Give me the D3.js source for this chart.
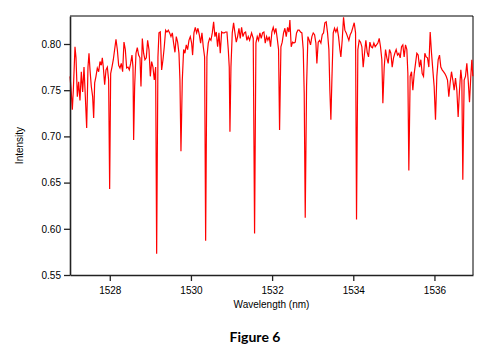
<!DOCTYPE html>
<html>
<head>
<meta charset="utf-8">
<script src="https://cdn.jsdelivr.net/npm/d3@7"></script>
<style>
  body { margin: 0; background: #fff; }
  svg { display: block; }
</style>
</head>
<body>
<script>
// spectrum (nm, arbitrary intensity)
const wavelength = [
  1527.020, 1527.045, 1527.077, 1527.102, 1527.143, 1527.168, 1527.201, 1527.233, 1527.266, 1527.299,
  1527.332, 1527.365, 1527.398, 1527.431, 1527.463, 1527.488, 1527.513, 1527.545, 1527.578, 1527.603,
  1527.628, 1527.660, 1527.693, 1527.726, 1527.759, 1527.792, 1527.816, 1527.841, 1527.874, 1527.907,
  1527.940, 1527.972, 1527.997, 1528.022, 1528.054, 1528.087, 1528.120, 1528.153, 1528.186, 1528.219,
  1528.252, 1528.284, 1528.317, 1528.350, 1528.383, 1528.416, 1528.449, 1528.481, 1528.514, 1528.547,
  1528.572, 1528.588, 1528.613, 1528.646, 1528.678, 1528.711, 1528.744, 1528.769, 1528.802, 1528.834,
  1528.867, 1528.900, 1528.933, 1528.966, 1528.999, 1529.031, 1529.064, 1529.097, 1529.130, 1529.155,
  1529.187, 1529.212, 1529.245, 1529.278, 1529.311, 1529.343, 1529.376, 1529.409, 1529.442, 1529.475,
  1529.508, 1529.541, 1529.573, 1529.606, 1529.639, 1529.672, 1529.705, 1529.729, 1529.754, 1529.787,
  1529.820, 1529.852, 1529.885, 1529.918, 1529.951, 1529.984, 1530.017, 1530.041, 1530.074, 1530.107,
  1530.140, 1530.173, 1530.206, 1530.238, 1530.271, 1530.304, 1530.337, 1530.362, 1530.394, 1530.427,
  1530.460, 1530.493, 1530.526, 1530.559, 1530.591, 1530.624, 1530.657, 1530.690, 1530.723, 1530.756,
  1530.788, 1530.821, 1530.854, 1530.887, 1530.920, 1530.944, 1530.961, 1530.986, 1531.018, 1531.051,
  1531.084, 1531.117, 1531.150, 1531.183, 1531.215, 1531.248, 1531.281, 1531.314, 1531.347, 1531.379,
  1531.412, 1531.445, 1531.494, 1531.535, 1531.568, 1531.601, 1531.634, 1531.666, 1531.699, 1531.732,
  1531.765, 1531.798, 1531.831, 1531.864, 1531.896, 1531.929, 1531.962, 1531.995, 1532.028, 1532.061,
  1532.093, 1532.126, 1532.159, 1532.184, 1532.217, 1532.249, 1532.282, 1532.315, 1532.348, 1532.381,
  1532.414, 1532.438, 1532.471, 1532.504, 1532.537, 1532.570, 1532.602, 1532.635, 1532.668, 1532.701,
  1532.734, 1532.767, 1532.791, 1532.816, 1532.849, 1532.882, 1532.914, 1532.947, 1532.980, 1533.013,
  1533.046, 1533.079, 1533.103, 1533.136, 1533.169, 1533.202, 1533.235, 1533.267, 1533.300, 1533.333,
  1533.366, 1533.399, 1533.423, 1533.448, 1533.473, 1533.506, 1533.538, 1533.571, 1533.604, 1533.637,
  1533.670, 1533.694, 1533.727, 1533.760, 1533.793, 1533.826, 1533.859, 1533.891, 1533.924, 1533.957,
  1533.990, 1534.023, 1534.056, 1534.080, 1534.113, 1534.146, 1534.179, 1534.212, 1534.244, 1534.277,
  1534.310, 1534.343, 1534.376, 1534.409, 1534.441, 1534.474, 1534.507, 1534.540, 1534.573, 1534.606,
  1534.639, 1534.671, 1534.704, 1534.729, 1534.762, 1534.795, 1534.827, 1534.860, 1534.893, 1534.926,
  1534.959, 1534.992, 1535.024, 1535.057, 1535.090, 1535.123, 1535.156, 1535.189, 1535.221, 1535.254,
  1535.287, 1535.320, 1535.345, 1535.369, 1535.402, 1535.435, 1535.468, 1535.501, 1535.534, 1535.566,
  1535.599, 1535.632, 1535.665, 1535.698, 1535.731, 1535.763, 1535.796, 1535.829, 1535.862, 1535.895,
  1535.928, 1535.960, 1535.993, 1536.026, 1536.059, 1536.092, 1536.125, 1536.157, 1536.190, 1536.223,
  1536.256, 1536.289, 1536.322, 1536.354, 1536.387, 1536.420, 1536.453, 1536.486, 1536.519, 1536.552,
  1536.584, 1536.617, 1536.650, 1536.675, 1536.699, 1536.732, 1536.765, 1536.798, 1536.831, 1536.864,
  1536.896, 1536.921, 1536.946
]
const intensity = [
  0.765, 0.752, 0.729, 0.750, 0.797, 0.785, 0.743, 0.759, 0.739, 0.770,
  0.748, 0.775, 0.743, 0.709, 0.775, 0.790, 0.772, 0.754, 0.743, 0.720,
  0.758, 0.765, 0.774, 0.770, 0.781, 0.777, 0.785, 0.775, 0.756, 0.772,
  0.775, 0.761, 0.643, 0.768, 0.775, 0.783, 0.794, 0.805, 0.794, 0.777,
  0.774, 0.779, 0.770, 0.802, 0.794, 0.774, 0.775, 0.772, 0.779, 0.788,
  0.775, 0.696, 0.754, 0.790, 0.796, 0.788, 0.785, 0.754, 0.806, 0.790,
  0.783, 0.785, 0.804, 0.794, 0.765, 0.781, 0.775, 0.761, 0.775, 0.573,
  0.786, 0.812, 0.813, 0.772, 0.783, 0.797, 0.815, 0.813, 0.815, 0.812,
  0.808, 0.812, 0.801, 0.791, 0.808, 0.802, 0.790, 0.761, 0.684, 0.761,
  0.794, 0.790, 0.799, 0.794, 0.804, 0.808, 0.801, 0.788, 0.812, 0.818,
  0.812, 0.817, 0.810, 0.801, 0.812, 0.797, 0.786, 0.587, 0.786, 0.801,
  0.806, 0.804, 0.812, 0.824, 0.808, 0.813, 0.797, 0.812, 0.790, 0.813,
  0.812, 0.812, 0.813, 0.813, 0.794, 0.775, 0.705, 0.775, 0.812, 0.823,
  0.812, 0.802, 0.808, 0.817, 0.806, 0.818, 0.808, 0.812, 0.813, 0.804,
  0.808, 0.804, 0.812, 0.806, 0.595, 0.801, 0.808, 0.804, 0.812, 0.806,
  0.812, 0.813, 0.801, 0.808, 0.804, 0.808, 0.797, 0.813, 0.818, 0.812,
  0.817, 0.806, 0.794, 0.707, 0.797, 0.802, 0.812, 0.817, 0.808, 0.818,
  0.813, 0.826, 0.797, 0.802, 0.801, 0.802, 0.812, 0.815, 0.815, 0.813,
  0.812, 0.794, 0.747, 0.612, 0.754, 0.808, 0.804, 0.799, 0.808, 0.812,
  0.810, 0.801, 0.779, 0.802, 0.804, 0.801, 0.810, 0.812, 0.823, 0.824,
  0.812, 0.794, 0.750, 0.718, 0.761, 0.812, 0.817, 0.813, 0.817, 0.808,
  0.794, 0.786, 0.804, 0.829, 0.815, 0.812, 0.808, 0.804, 0.810, 0.813,
  0.818, 0.823, 0.812, 0.610, 0.794, 0.804, 0.802, 0.797, 0.775, 0.790,
  0.804, 0.791, 0.786, 0.802, 0.797, 0.796, 0.801, 0.797, 0.799, 0.801,
  0.806, 0.797, 0.783, 0.736, 0.775, 0.794, 0.785, 0.779, 0.794, 0.790,
  0.775, 0.785, 0.790, 0.794, 0.788, 0.790, 0.785, 0.797, 0.799, 0.786,
  0.799, 0.794, 0.768, 0.663, 0.765, 0.770, 0.750, 0.768, 0.779, 0.790,
  0.788, 0.775, 0.783, 0.768, 0.765, 0.790, 0.786, 0.785, 0.775, 0.813,
  0.790, 0.772, 0.754, 0.718, 0.765, 0.783, 0.788, 0.775, 0.772, 0.770,
  0.768, 0.765, 0.761, 0.743, 0.758, 0.770, 0.761, 0.750, 0.763, 0.750,
  0.721, 0.750, 0.772, 0.761, 0.653, 0.761, 0.765, 0.779, 0.761, 0.737,
  0.765, 0.783, 0.765
]
const xTicks = [1528, 1530, 1532, 1534, 1536]
const yTicks = [0.55, 0.60, 0.65, 0.70, 0.75, 0.80]

const W = 500, H = 353
const margin = {top: 16, right: 27, bottom: 78, left: 70}
const width = W - margin.left - margin.right
const height = H - margin.top - margin.bottom

let svg = d3.select("body")
  .append("svg")
    .attr("width", W)
    .attr("height", H)

let g = svg.append("g")
    .attr("transform", "translate(" + margin.left + "," + margin.top + ")")

let x = d3.scaleLinear()
  .domain([1527.02, 1536.95])
  .range([0, width])

let y = d3.scaleLinear()
  .domain([0.55, 0.8303])
  .range([height, 0])

// frame top/right
g.append("line")
  .attr("x1", 0).attr("x2", width).attr("y1", 0).attr("y2", 0)
  .attr("stroke", "#000").attr("stroke-width", 1)
g.append("line")
  .attr("x1", width).attr("x2", width).attr("y1", 0).attr("y2", height)
  .attr("stroke", "#000").attr("stroke-width", 1)

let pts = wavelength.map((w, i) => [w, intensity[i]])

g.append("path")
  .datum(pts)
  .attr("fill", "none")
  .attr("stroke", "#ff0000")
  .attr("stroke-width", 1.2)
  .attr("stroke-linejoin", "miter")
  .attr("d", d3.line().x(d => x(d[0])).y(d => y(d[1])))

let xAxis = g.append("g")
  .attr("transform", "translate(0," + height + ")")
  .call(d3.axisBottom(x).tickValues(xTicks).tickFormat(d3.format("d")).tickSize(6).tickPadding(6).tickSizeOuter(0))

let yAxis = g.append("g")
  .call(d3.axisLeft(y).tickValues(yTicks).tickFormat(d3.format(".2f")).tickSize(6).tickPadding(3).tickSizeOuter(0))

svg.selectAll(".domain").attr("stroke", "#222").attr("stroke-width", 1.6)
svg.selectAll(".tick line").attr("stroke", "#222").attr("stroke-width", 1.3)
svg.selectAll(".tick text")
  .attr("font-family", "'Liberation Sans', Arial, sans-serif")
  .attr("font-size", 10)
  .attr("fill", "#000")

// axis labels
g.append("text")
  .attr("text-anchor", "middle")
  .attr("x", width / 2)
  .attr("y", height + 33)
  .attr("font-family", "'Liberation Sans', Arial, sans-serif")
  .attr("font-size", 10)
  .text("Wavelength (nm)")

g.append("text")
  .attr("text-anchor", "middle")
  .attr("transform", "rotate(-90)")
  .attr("x", -height / 2)
  .attr("y", -margin.left + 23)
  .attr("font-family", "'Liberation Sans', Arial, sans-serif")
  .attr("font-size", 10)
  .text("Intensity")

svg.append("text")
  .attr("text-anchor", "middle")
  .attr("x", 255)
  .attr("y", 342)
  .attr("font-family", "Lato, 'Open Sans', sans-serif")
  .attr("font-weight", "bold")
  .attr("font-size", 14)
  .text("Figure 6")
</script>
</body>
</html>
